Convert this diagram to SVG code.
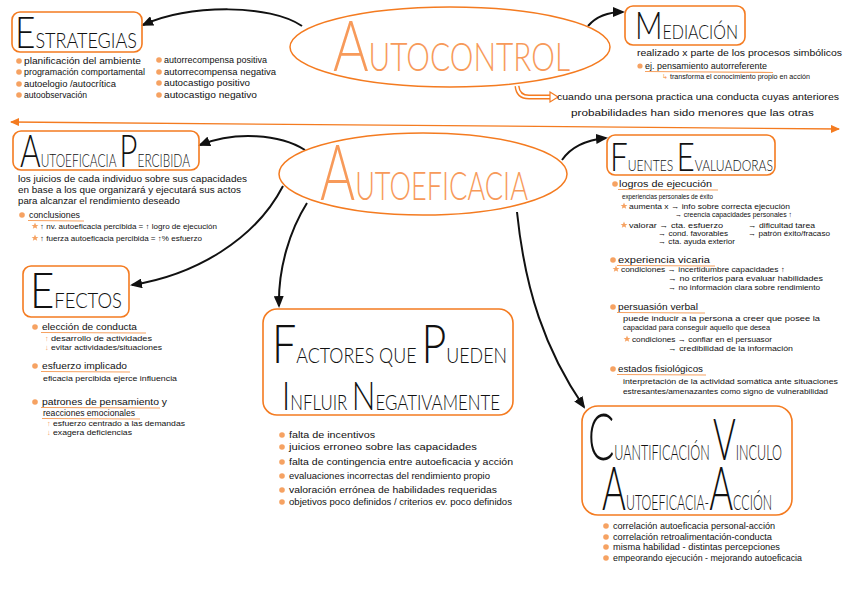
<svg xmlns="http://www.w3.org/2000/svg" width="848" height="599" viewBox="0 0 848 599">
<style>
.box{fill:none;stroke:#f47b20;stroke-width:1.6}
.ell{fill:none;stroke:#f47b20;stroke-width:1.5}
.t{font-family:Lato,"Liberation Sans",sans-serif;font-weight:300;fill:#111}
.to{font-family:Lato,"Liberation Sans",sans-serif;font-weight:300;fill:#f79a5a}
.b{font-family:"Liberation Sans",Arial,sans-serif;font-size:9.5px;fill:#111}
.s{font-size:7.5px}
.xs{font-size:6.5px}
.o{fill:#f6a262}
.dot{fill:#f6a262}
.ul{stroke:#f6a262;stroke-width:1.2;fill:none}
.conn{fill:none;stroke:#111;stroke-width:2}
</style>
<defs>
<marker id="ah" markerUnits="userSpaceOnUse" markerWidth="12" markerHeight="10" refX="10" refY="5" orient="auto">
<path d="M0,0 L12,5 L0,10 z" fill="#111"/>
</marker>
<marker id="oh" markerUnits="userSpaceOnUse" markerWidth="9" markerHeight="8" refX="8" refY="4" orient="auto-start-reverse">
<path d="M0,0 L9,4 L0,8 z" fill="#f47b20"/>
</marker>
<polygon id="star" points="0,-3.5 1,-1.1 3.4,-1.1 1.5,0.4 2.2,2.8 0,1.4 -2.2,2.8 -1.5,0.4 -3.4,-1.1 -1,-1.1" fill="#f6a262"/>
</defs>
<rect width="848" height="599" fill="#fff"/>

<g id="connectors">
<path class="conn" d="M302,26 C270,4 190,4 143,25" marker-end="url(#ah)"/>
<path class="conn" d="M588,26 Q600,12 623,12" marker-end="url(#ah)"/>
<path class="conn" d="M305,150 C280,134 235,131 200,145" marker-end="url(#ah)"/>
<path class="conn" d="M562,160 Q575,141 606,138" marker-end="url(#ah)"/>
<path class="conn" d="M283,186 C255,240 195,275 132,285" marker-end="url(#ah)"/>
<path class="conn" d="M307,203 C290,230 278,268 279,306" marker-end="url(#ah)"/>
<path class="conn" d="M517,212 C525,290 545,350 584,407" marker-end="url(#ah)"/>
<path d="M11,122 L839,129" stroke="#f47b20" stroke-width="1.3" fill="none" marker-start="url(#oh)" marker-end="url(#oh)"/>
<path d="M517,86 Q518,97 529,97 L551,97" stroke="#f47b20" stroke-width="5" fill="none"/>
<path d="M517,86 Q518,97 529,97 L552,97" stroke="#fff" stroke-width="2.2" fill="none"/>
<polygon points="550,92 558,97 550,102" fill="#fff" stroke="#f47b20" stroke-width="1.2"/>
</g>

<g id="autocontrol">
<ellipse class="ell" cx="450" cy="47" rx="160" ry="40"/>
<text class="to" x="333" y="71" textLength="237" lengthAdjust="spacingAndGlyphs"><tspan font-size="71">A</tspan><tspan font-size="39">UTOCONTROL</tspan></text>
</g>

<g id="estrategias">
<rect class="box" x="12" y="12" width="130" height="40" rx="8"/>
<text class="t" x="15" y="48" textLength="122" lengthAdjust="spacingAndGlyphs"><tspan font-size="43">E</tspan><tspan font-size="22">STRATEGIAS</tspan></text>
<circle class="dot" cx="19" cy="61" r="2.8"/>
<circle class="dot" cx="19" cy="72" r="2.8"/>
<circle class="dot" cx="19" cy="84" r="2.8"/>
<circle class="dot" cx="19" cy="95" r="2.8"/>
<text class="b" x="24" y="64" textLength="117" lengthAdjust="spacingAndGlyphs">planificación del ambiente</text>
<text class="b" x="24" y="75" textLength="121" lengthAdjust="spacingAndGlyphs">programación comportamental</text>
<text class="b" x="24" y="87" textLength="92" lengthAdjust="spacingAndGlyphs">autoelogio /autocrítica</text>
<text class="b" x="24" y="98" textLength="63" lengthAdjust="spacingAndGlyphs">autoobservación</text>
<circle class="dot" cx="159" cy="60" r="2.8"/>
<circle class="dot" cx="159" cy="72" r="2.8"/>
<circle class="dot" cx="159" cy="83" r="2.8"/>
<circle class="dot" cx="159" cy="95" r="2.8"/>
<text class="b" x="164" y="63" textLength="103" lengthAdjust="spacingAndGlyphs">autorrecompensa positiva</text>
<text class="b" x="164" y="75" textLength="112" lengthAdjust="spacingAndGlyphs">autorrecompensa negativa</text>
<text class="b" x="164" y="86" textLength="86" lengthAdjust="spacingAndGlyphs">autocastigo positivo</text>
<text class="b" x="164" y="98" textLength="93" lengthAdjust="spacingAndGlyphs">autocastigo negativo</text>
</g>

<g id="mediacion">
<rect class="box" x="625" y="6" width="120" height="39" rx="8"/>
<text class="t" x="635" y="39" textLength="103" lengthAdjust="spacingAndGlyphs"><tspan font-size="38">M</tspan><tspan font-size="20">EDIACIÓN</tspan></text>
<text class="b" x="637" y="56" font-size="9" textLength="205" lengthAdjust="spacingAndGlyphs">realizado x parte de los procesos simbólicos</text>
<circle class="dot" cx="640" cy="66" r="2.6"/>
<text class="b" x="645" y="69" font-size="9" textLength="122" lengthAdjust="spacingAndGlyphs">ej. pensamiento autorreferente</text>
<path class="ul" d="M645,71.5 L773,72.5"/>
<text class="b xs" x="662" y="79"><tspan class="o">↳</tspan></text>
<text class="b xs" x="670" y="79" textLength="140" lengthAdjust="spacingAndGlyphs">transforma el conocimiento propio en acción</text>
<text class="b" x="557" y="100" font-size="11" textLength="282" lengthAdjust="spacingAndGlyphs">cuando una persona practica una conducta cuyas anteriores</text>
<text class="b" x="571" y="116" font-size="11" textLength="243" lengthAdjust="spacingAndGlyphs">probabilidades han sido menores que las otras</text>
</g>

<g id="autoeficacia">
<ellipse class="ell" cx="423" cy="174" rx="144" ry="41"/>
<text class="to" x="320" y="200" textLength="208" lengthAdjust="spacingAndGlyphs"><tspan font-size="77">A</tspan><tspan font-size="39">UTOEFICACIA</tspan></text>
</g>

<g id="autoeficacia-percibida">
<rect class="box" x="13" y="131" width="186" height="39" rx="8"/>
<text class="t" x="20" y="167" textLength="170" lengthAdjust="spacingAndGlyphs"><tspan font-size="45">A</tspan><tspan font-size="17">UTOEFICACIA </tspan><tspan font-size="45">P</tspan><tspan font-size="17">ERCIBIDA</tspan></text>
<text class="b" x="18" y="182" textLength="229" lengthAdjust="spacingAndGlyphs">los juicios de cada individuo sobre sus capacidades</text>
<text class="b" x="18" y="193" textLength="223" lengthAdjust="spacingAndGlyphs">en base a los que organizará y ejecutará sus actos</text>
<text class="b" x="18" y="204" textLength="162" lengthAdjust="spacingAndGlyphs">para alcanzar el rendimiento deseado</text>
<circle class="dot" cx="22" cy="215" r="2.8"/>
<text class="b" x="29" y="218" textLength="51" lengthAdjust="spacingAndGlyphs">conclusiones</text>
<path class="ul" d="M28,220.5 L84,221"/>
<use href="#star" x="35" y="226"/>
<text class="b s" x="40" y="229" textLength="177" lengthAdjust="spacingAndGlyphs">↑ nv. autoeficacia percibida = ↑ logro de ejecución</text>
<use href="#star" x="35" y="238"/>
<text class="b s" x="40" y="241" textLength="162" lengthAdjust="spacingAndGlyphs">↑ fuerza autoeficacia percibida = ↑% esfuerzo</text>
</g>

<g id="fuentes-evaluadoras">
<rect class="box" x="607" y="135" width="168" height="40" rx="8"/>
<text class="t" x="610" y="171" textLength="163" lengthAdjust="spacingAndGlyphs"><tspan font-size="39">F</tspan><tspan font-size="15">UENTES </tspan><tspan font-size="39">E</tspan><tspan font-size="15">VALUADORAS</tspan></text>
<circle class="dot" cx="615" cy="184" r="2.8"/>
<text class="b" x="619" y="187" textLength="93" lengthAdjust="spacingAndGlyphs">logros de ejecución</text>
<path class="ul" d="M618,189.5 L718,190"/>
<text class="b s" x="622" y="199" textLength="91" lengthAdjust="spacingAndGlyphs">experiencias personales de éxito</text>
<use href="#star" x="624" y="206"/>
<text class="b s" x="629" y="209" textLength="161" lengthAdjust="spacingAndGlyphs">aumenta x → info sobre correcta ejecución</text>
<text class="b s" x="675" y="217" textLength="117" lengthAdjust="spacingAndGlyphs">→ creencia capacidades personales ↑</text>
<use href="#star" x="624" y="225"/>
<text class="b s" x="629" y="228" textLength="94" lengthAdjust="spacingAndGlyphs">valorar → cta. esfuerzo</text>
<text class="b s" x="658" y="236" textLength="70" lengthAdjust="spacingAndGlyphs">→ cond. favorables</text>
<text class="b s" x="658" y="244" textLength="77" lengthAdjust="spacingAndGlyphs">→ cta. ayuda exterior</text>
<text class="b s" x="748" y="228" textLength="67" lengthAdjust="spacingAndGlyphs">→ dificultad tarea</text>
<text class="b s" x="748" y="236" textLength="82" lengthAdjust="spacingAndGlyphs">→ patrón éxito/fracaso</text>
<circle class="dot" cx="613" cy="260" r="2.8"/>
<text class="b" x="618" y="263" textLength="92" lengthAdjust="spacingAndGlyphs">experiencia vicaria</text>
<path class="ul" d="M617,265.5 L715,266"/>
<use href="#star" x="616" y="269"/>
<text class="b s" x="621" y="272" textLength="164" lengthAdjust="spacingAndGlyphs">condiciones → incertidumbre capacidades ↑</text>
<text class="b s" x="668" y="281" textLength="155" lengthAdjust="spacingAndGlyphs">→ no criterios para evaluar habilidades</text>
<text class="b s" x="668" y="290" textLength="152" lengthAdjust="spacingAndGlyphs">→ no información clara sobre rendimiento</text>
<circle class="dot" cx="613" cy="307" r="2.8"/>
<text class="b" x="618" y="310" textLength="80" lengthAdjust="spacingAndGlyphs">persuasión verbal</text>
<path class="ul" d="M617,312.5 L705,313"/>
<text class="b s" x="623" y="321" font-size="8" textLength="197" lengthAdjust="spacingAndGlyphs">puede inducir a la persona a creer que posee la</text>
<text class="b s" x="623" y="330" font-size="8" textLength="147" lengthAdjust="spacingAndGlyphs">capacidad para conseguir aquello que desea</text>
<use href="#star" x="627" y="339"/>
<text class="b s" x="632" y="342" textLength="140" lengthAdjust="spacingAndGlyphs">condiciones → confiar en el persuasor</text>
<text class="b s" x="668" y="351" textLength="125" lengthAdjust="spacingAndGlyphs">→ credibilidad de la información</text>
<circle class="dot" cx="613" cy="369" r="2.8"/>
<text class="b" x="618" y="372" textLength="85" lengthAdjust="spacingAndGlyphs">estados fisiológicos</text>
<path class="ul" d="M617,374.5 L706,375"/>
<text class="b s" x="623" y="384" font-size="8" textLength="215" lengthAdjust="spacingAndGlyphs">interpretación de la actividad somática ante situaciones</text>
<text class="b s" x="623" y="394" font-size="8" textLength="205" lengthAdjust="spacingAndGlyphs">estresantes/amenazantes como signo de vulnerabilidad</text>
</g>

<g id="efectos">
<rect class="box" x="23" y="266" width="106" height="51" rx="8"/>
<text class="t" x="30" y="308" textLength="92" lengthAdjust="spacingAndGlyphs"><tspan font-size="50">E</tspan><tspan font-size="22">FECTOS</tspan></text>
<circle class="dot" cx="35" cy="327" r="2.8"/>
<text class="b" x="42" y="330" textLength="95" lengthAdjust="spacingAndGlyphs">elección de conducta</text>
<path class="ul" d="M41,332.5 L146,333"/>
<text class="b s o" x="45" y="341">↑</text>
<text class="b s" x="51" y="341" textLength="101" lengthAdjust="spacingAndGlyphs">desarrollo de actividades</text>
<text class="b s o" x="45" y="350">↓</text>
<text class="b s" x="51" y="350" textLength="111" lengthAdjust="spacingAndGlyphs">evitar actividades/situaciones</text>
<circle class="dot" cx="35" cy="366" r="2.8"/>
<text class="b" x="42" y="369" textLength="85" lengthAdjust="spacingAndGlyphs">esfuerzo implicado</text>
<path class="ul" d="M41,371.5 L130,372"/>
<text class="b s" x="43" y="381" textLength="134" lengthAdjust="spacingAndGlyphs">eficacia percibida ejerce influencia</text>
<circle class="dot" cx="35" cy="402" r="2.8"/>
<text class="b" x="42" y="405" textLength="125" lengthAdjust="spacingAndGlyphs">patrones de pensamiento y</text>
<path class="ul" d="M41,407.5 L160,408"/>
<text class="b" x="43" y="416" textLength="92" lengthAdjust="spacingAndGlyphs">reacciones emocionales</text>
<path class="ul" d="M42,418.5 L140,419"/>
<text class="b s o" x="47" y="426">↑</text>
<text class="b s" x="53" y="426" textLength="132" lengthAdjust="spacingAndGlyphs">esfuerzo centrado a las demandas</text>
<text class="b s o" x="47" y="435">↓</text>
<text class="b s" x="53" y="435" textLength="79" lengthAdjust="spacingAndGlyphs">exagera deficiencias</text>
</g>

<g id="factores">
<rect class="box" x="263" y="309" width="250" height="106" rx="14"/>
<text class="t" x="272" y="363" textLength="235" lengthAdjust="spacingAndGlyphs"><tspan font-size="53">F</tspan><tspan font-size="22">ACTORES QUE </tspan><tspan font-size="53">P</tspan><tspan font-size="22">UEDEN</tspan></text>
<text class="t" x="282" y="410" textLength="218" lengthAdjust="spacingAndGlyphs"><tspan font-size="39">I</tspan><tspan font-size="21">NFLUIR </tspan><tspan font-size="39">N</tspan><tspan font-size="21">EGATIVAMENTE</tspan></text>
<circle class="dot" cx="282" cy="435" r="2.8"/>
<circle class="dot" cx="282" cy="447" r="2.8"/>
<circle class="dot" cx="282" cy="462" r="2.8"/>
<circle class="dot" cx="282" cy="476" r="2.8"/>
<circle class="dot" cx="282" cy="490" r="2.8"/>
<circle class="dot" cx="282" cy="502" r="2.8"/>
<text class="b" x="289" y="438" textLength="86" lengthAdjust="spacingAndGlyphs">falta de incentivos</text>
<text class="b" x="289" y="450" textLength="188" lengthAdjust="spacingAndGlyphs">juicios erroneo sobre las capacidades</text>
<text class="b" x="289" y="465" textLength="224" lengthAdjust="spacingAndGlyphs">falta de contingencia entre autoeficacia y acción</text>
<text class="b" x="289" y="479" textLength="201" lengthAdjust="spacingAndGlyphs">evaluaciones incorrectas del rendimiento propio</text>
<text class="b" x="289" y="493" textLength="208" lengthAdjust="spacingAndGlyphs">valoración errónea de habilidades requeridas</text>
<text class="b" x="289" y="505" textLength="223" lengthAdjust="spacingAndGlyphs">objetivos poco definidos / criterios ev. poco definidos</text>
</g>

<g id="cuantificacion">
<rect class="box" x="582" y="406" width="210" height="109" rx="16"/>
<text class="t" x="588" y="460" textLength="194" lengthAdjust="spacingAndGlyphs"><tspan font-size="65">C</tspan><tspan font-size="21">UANTIFICACIÓN </tspan><tspan font-size="58">V</tspan><tspan font-size="21">INCULO</tspan></text>
<text class="t" x="602" y="510" textLength="170" lengthAdjust="spacingAndGlyphs"><tspan font-size="62">A</tspan><tspan font-size="21">UTOEFICACIA-</tspan><tspan font-size="62">A</tspan><tspan font-size="21">CCIÓN</tspan></text>
<circle class="dot" cx="606" cy="526" r="2.8"/>
<circle class="dot" cx="606" cy="537" r="2.8"/>
<circle class="dot" cx="606" cy="547" r="2.8"/>
<circle class="dot" cx="606" cy="558" r="2.8"/>
<text class="b" x="613" y="529" font-size="9" textLength="162" lengthAdjust="spacingAndGlyphs">correlación autoeficacia personal-acción</text>
<text class="b" x="613" y="540" font-size="9" textLength="159" lengthAdjust="spacingAndGlyphs">correlación retroalimentación-conducta</text>
<text class="b" x="613" y="550" font-size="9" textLength="167" lengthAdjust="spacingAndGlyphs">misma habilidad - distintas percepciones</text>
<text class="b" x="613" y="561" font-size="9" textLength="189" lengthAdjust="spacingAndGlyphs">empeorando ejecución - mejorando autoeficacia</text>
</g>
</svg>
